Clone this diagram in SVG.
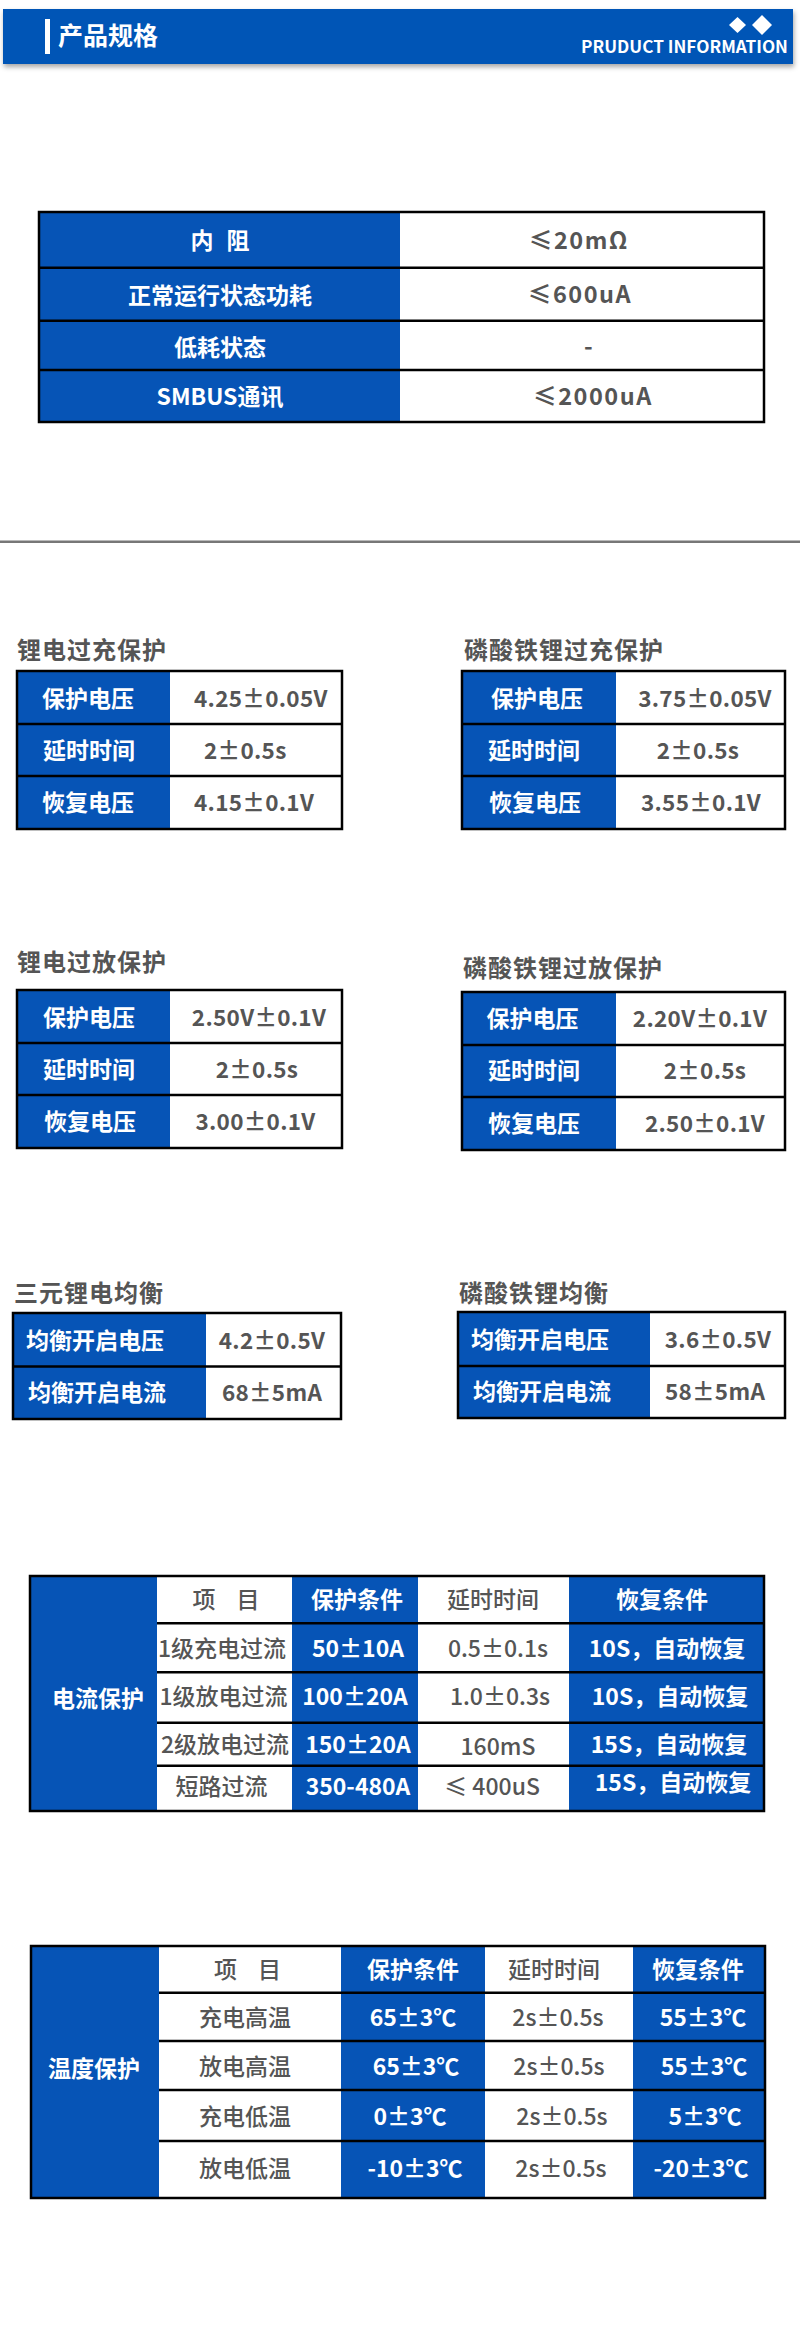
<svg xmlns="http://www.w3.org/2000/svg" width="800" height="2350" viewBox="0 0 800 2350">
<defs>
<filter id="sh" x="-5%" y="-30%" width="110%" height="180%">
<feDropShadow dx="1" dy="3" stdDeviation="2.5" flood-color="#000" flood-opacity="0.35"/>
</filter>
</defs>
<style>
text{font-family:"Noto Sans CJK SC","Noto Sans",sans-serif}
.lb{font-weight:700;fill:#fff;font-size:23px}
.vl{font-weight:500;fill:#555;font-size:23px}
.vb{font-weight:700;fill:#555;font-size:22.5px;letter-spacing:0.3px}
.v1{font-weight:700;fill:#555;font-size:23.5px;letter-spacing:1.5px}
.tt{font-weight:700;fill:#555;font-size:24px;letter-spacing:1px}
.m{text-anchor:middle}
.blue{fill:#0654b6}
.bd{fill:none;stroke:#000;stroke-width:2.5}
.ln{stroke:#000;stroke-width:2.5}
</style>
<rect width="800" height="2350" fill="#fff"/>

<g id="header">
<rect x="3" y="9" width="790" height="55" class="blue" filter="url(#sh)"/>
<rect x="45" y="19" width="5" height="35" fill="#fff"/>
<text x="58" y="45" font-size="25" font-weight="700" fill="#fff">产品规格</text>
<polygon points="737.5,17 746,25 737.5,33 729,25" fill="#fff"/>
<polygon points="762,15 772,25 762,35 752,25" fill="#fff"/>
<text x="581" y="53" font-size="16.5" font-weight="700" fill="#fff" textLength="207" lengthAdjust="spacingAndGlyphs">PRUDUCT INFORMATION</text>
</g>

<g id="table-basic">
<rect x="39" y="212" width="361" height="210" class="blue"/>
<rect x="39" y="212" width="725" height="210" class="bd"/>
<line x1="39" y1="267.7" x2="764" y2="267.7" class="ln"/>
<line x1="39" y1="320.7" x2="764" y2="320.7" class="ln"/>
<line x1="39" y1="370" x2="764" y2="370" class="ln"/>
<text x="220" y="249" class="lb m" font-size="25" word-spacing="8">内 阻</text>
<text x="220" y="304" class="lb m" font-size="25">正常运行状态功耗</text>
<text x="220" y="355.5" class="lb m" font-size="25">低耗状态</text>
<text x="220" y="405" class="lb m" font-size="25">SMBUS通讯</text>
<text x="579" y="248.5" class="v1 m">≤20mΩ</text>
<text x="580" y="303" class="v1 m">≤600uA</text>
<text x="589" y="354.5" class="v1 m">-</text>
<text x="593" y="404.5" class="v1 m">≤2000uA</text>
</g>

<line x1="0" y1="541.7" x2="800" y2="541.7" stroke="#777" stroke-width="2.5"/>

<g id="li-overcharge">
<text x="17" y="659" class="tt">锂电过充保护</text>
<rect x="17" y="671" width="153" height="158" class="blue"/>
<rect x="17" y="671" width="325" height="158" class="bd"/>
<line x1="17" y1="724" x2="342" y2="724" class="ln"/>
<line x1="17" y1="776" x2="342" y2="776" class="ln"/>
<text x="42" y="706.5" class="lb">保护电压</text>
<text x="43" y="758.5" class="lb">延时时间</text>
<text x="42" y="810.5" class="lb">恢复电压</text>
<text x="194" y="706.5" class="vb">4.25±0.05V</text>
<text x="204" y="758.5" class="vb">2±0.5s</text>
<text x="194" y="810.5" class="vb">4.15±0.1V</text>
</g>

<g id="lfp-overcharge">
<text x="464" y="659" class="tt">磷酸铁锂过充保护</text>
<rect x="462" y="671" width="154" height="158" class="blue"/>
<rect x="462" y="671" width="323" height="158" class="bd"/>
<line x1="462" y1="724" x2="785" y2="724" class="ln"/>
<line x1="462" y1="776" x2="785" y2="776" class="ln"/>
<text x="537" y="706.5" class="lb m">保护电压</text>
<text x="534" y="758.5" class="lb m">延时时间</text>
<text x="535" y="810.5" class="lb m">恢复电压</text>
<text x="705" y="706.5" class="vb m">3.75±0.05V</text>
<text x="698" y="758.5" class="vb m">2±0.5s</text>
<text x="701" y="810.5" class="vb m">3.55±0.1V</text>
</g>

<g id="li-overdischarge">
<text x="17" y="970.5" class="tt">锂电过放保护</text>
<rect x="17" y="990" width="153" height="158" class="blue"/>
<rect x="17" y="990" width="325" height="158" class="bd"/>
<line x1="17" y1="1043" x2="342" y2="1043" class="ln"/>
<line x1="17" y1="1095" x2="342" y2="1095" class="ln"/>
<text x="43" y="1025.5" class="lb">保护电压</text>
<text x="43" y="1077.5" class="lb">延时时间</text>
<text x="44" y="1130" class="lb">恢复电压</text>
<text x="259" y="1025.5" class="vb m">2.50V±0.1V</text>
<text x="257" y="1077.5" class="vb m">2±0.5s</text>
<text x="255.5" y="1130" class="vb m">3.00±0.1V</text>
</g>

<g id="lfp-overdischarge">
<text x="463" y="976.5" class="tt">磷酸铁锂过放保护</text>
<rect x="462" y="992" width="154" height="158" class="blue"/>
<rect x="462" y="992" width="323" height="158" class="bd"/>
<line x1="462" y1="1045" x2="785" y2="1045" class="ln"/>
<line x1="462" y1="1097" x2="785" y2="1097" class="ln"/>
<text x="532.5" y="1027" class="lb m">保护电压</text>
<text x="534" y="1079" class="lb m">延时时间</text>
<text x="534" y="1131.5" class="lb m">恢复电压</text>
<text x="700" y="1027" class="vb m">2.20V±0.1V</text>
<text x="705" y="1079" class="vb m">2±0.5s</text>
<text x="705" y="1131.5" class="vb m">2.50±0.1V</text>
</g>

<g id="li-balance">
<text x="14" y="1302" class="tt">三元锂电均衡</text>
<rect x="13" y="1313" width="193" height="106" class="blue"/>
<rect x="13" y="1313" width="328" height="106" class="bd"/>
<line x1="13" y1="1366.5" x2="341" y2="1366.5" class="ln"/>
<text x="26" y="1348.5" class="lb">均衡开启电压</text>
<text x="28" y="1400.5" class="lb">均衡开启电流</text>
<text x="272" y="1348.5" class="vb m">4.2±0.5V</text>
<text x="272" y="1400.5" class="vb m">68±5mA</text>
</g>

<g id="lfp-balance">
<text x="459" y="1302" class="tt">磷酸铁锂均衡</text>
<rect x="458" y="1312" width="192" height="106" class="blue"/>
<rect x="458" y="1312" width="327" height="106" class="bd"/>
<line x1="458" y1="1366" x2="785" y2="1366" class="ln"/>
<text x="471" y="1347.5" class="lb">均衡开启电压</text>
<text x="473" y="1400" class="lb">均衡开启电流</text>
<text x="718" y="1347.5" class="vb m">3.6±0.5V</text>
<text x="715" y="1400" class="vb m">58±5mA</text>
</g>

<g id="current-protection">
<rect x="30" y="1576" width="127" height="235" class="blue"/>
<rect x="292" y="1576" width="126" height="235" class="blue"/>
<rect x="569" y="1576" width="195" height="235" class="blue"/>
<rect x="30" y="1576" width="734" height="235" class="bd"/>
<line x1="157" y1="1623.3" x2="764" y2="1623.3" class="ln"/>
<line x1="157" y1="1672.3" x2="764" y2="1672.3" class="ln"/>
<line x1="157" y1="1722.7" x2="764" y2="1722.7" class="ln"/>
<line x1="157" y1="1765.7" x2="764" y2="1765.7" class="ln"/>
<text x="98" y="1707" class="lb m" font-size="25">电流保护</text>
<text x="226" y="1607.5" class="vl m" font-size="22" font-weight="700" word-spacing="16">项 目</text>
<text x="357" y="1608" class="lb m" font-size="24">保护条件</text>
<text x="493" y="1608" class="vl m" font-size="24">延时时间</text>
<text x="662" y="1608" class="lb m" font-size="24">恢复条件</text>
<text x="222" y="1657" class="vl m" font-size="22">1级充电过流</text>
<text x="358" y="1657" class="lb m">50±10A</text>
<text x="498" y="1657" class="vl m">0.5±0.1s</text>
<text x="667" y="1657" class="lb m" font-size="22.5">10S，自动恢复</text>
<text x="223.5" y="1705" class="vl m" font-size="22">1级放电过流</text>
<text x="355" y="1705" class="lb m">100±20A</text>
<text x="500" y="1705" class="vl m">1.0±0.3s</text>
<text x="670" y="1705" class="lb m" font-size="22.5">10S，自动恢复</text>
<text x="225" y="1752.5" class="vl m" font-size="22">2级放电过流</text>
<text x="358" y="1752.5" class="lb m">150±20A</text>
<text x="498" y="1755" class="vl m">160mS</text>
<text x="669" y="1752.5" class="lb m" font-size="22.5">15S，自动恢复</text>
<text x="221.5" y="1795" class="vl m" font-size="22">短路过流</text>
<text x="358" y="1795" class="lb m">350-480A</text>
<text x="492" y="1795" class="vl m">≤ 400uS</text>
<text x="673" y="1791" class="lb m" font-size="22.5">15S，自动恢复</text>
</g>

<g id="temperature-protection">
<rect x="31" y="1946" width="128" height="252" class="blue"/>
<rect x="341" y="1946" width="144" height="252" class="blue"/>
<rect x="633" y="1946" width="132" height="252" class="blue"/>
<rect x="31" y="1946" width="734" height="252" class="bd"/>
<line x1="159" y1="1992.7" x2="765" y2="1992.7" class="ln"/>
<line x1="159" y1="2041" x2="765" y2="2041" class="ln"/>
<line x1="159" y1="2090" x2="765" y2="2090" class="ln"/>
<line x1="159" y1="2141" x2="765" y2="2141" class="ln"/>
<text x="94" y="2076.5" class="lb m" font-size="25">温度保护</text>
<text x="247.5" y="1977.5" class="vl m" font-size="22" font-weight="700" word-spacing="16">项 目</text>
<text x="413" y="1978" class="lb m" font-size="25">保护条件</text>
<text x="554" y="1978" class="vl m" font-size="25">延时时间</text>
<text x="698" y="1978" class="lb m" font-size="25">恢复条件</text>
<text x="245" y="2025.5" class="vl m" font-size="22">充电高温</text>
<text x="413" y="2025.5" class="lb m">65±3℃</text>
<text x="558" y="2025.5" class="vl m">2s±0.5s</text>
<text x="703" y="2025.5" class="lb m">55±3℃</text>
<text x="245" y="2074.5" class="vl m" font-size="22">放电高温</text>
<text x="416" y="2074.5" class="lb m">65±3℃</text>
<text x="559" y="2074.5" class="vl m">2s±0.5s</text>
<text x="704" y="2074.5" class="lb m">55±3℃</text>
<text x="245" y="2124.5" class="vl m" font-size="22">充电低温</text>
<text x="410" y="2124.5" class="lb m">0±3℃</text>
<text x="562" y="2124.5" class="vl m">2s±0.5s</text>
<text x="705" y="2124.5" class="lb m">5±3℃</text>
<text x="245" y="2176.5" class="vl m" font-size="22">放电低温</text>
<text x="415" y="2176.5" class="lb m">-10±3℃</text>
<text x="561" y="2176.5" class="vl m">2s±0.5s</text>
<text x="701" y="2176.5" class="lb m">-20±3℃</text>
</g>
</svg>
